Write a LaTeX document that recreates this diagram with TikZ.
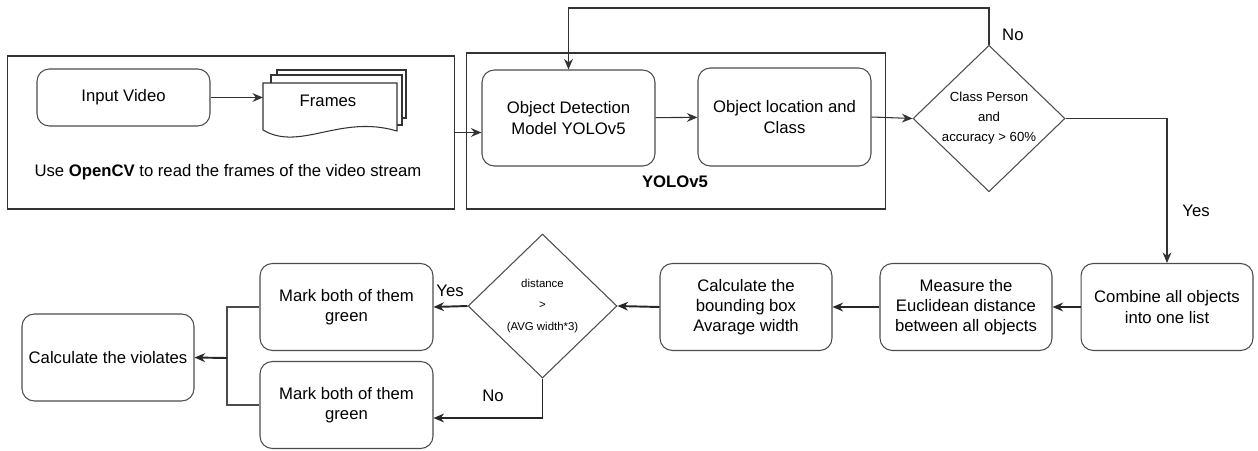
\documentclass[tikz,border=0pt]{standalone}
\usepackage{fontspec}
\setmainfont{Liberation Sans}
\usetikzlibrary{arrows.meta, shapes.geometric, positioning, calc}

\tikzset{
  box/.style={rectangle, rounded corners=7pt, draw=black!70, line width=0.6pt,
              minimum width=3.46cm, minimum height=1.74cm, align=center,
              font=\fontsize{9.5}{11.5}\selectfont},
  frame/.style={rectangle, draw=black!80, line width=0.6pt},
  dec/.style={diamond, draw=black!70, line width=0.6pt, inner sep=0pt, align=center},
  arr/.style={-{Stealth[length=6pt,width=5pt]}, draw=black!80, line width=0.6pt},
  barr/.style={-{Stealth[length=6pt,width=5pt]}, draw=black!85, line width=1.1pt},
  lbl/.style={font=\fontsize{9.5}{11.5}\selectfont}
}

\begin{document}
\begin{tikzpicture}[x=0.02cm,y=-0.02cm]
          \useasboundingbox (0,0) rectangle (1258,450);
          % frames of the video
          \node[frame,minimum width=8.96cm,minimum height=3.06cm](cvbox)at(231,132.5){};
          \node[frame,minimum width=8.4cm,minimum height=3.12cm](ylbox)at(676,131){};
          \node[box,minimum height=1.14cm](iv)at(123.5,97.5){Input Video};
          \fill[white,draw=black!80,line width=0.6pt]
               (277,75)--(277,70)--(406,70)--(406,118)--(402,118);
          \fill[white,draw=black!80,line width=0.6pt]
               (271,83)--(271,75)--(402,75)--(402,125)--(397,125);
          \filldraw[fill=white,draw=black!80,line width=0.6pt]
               (263,83)--(397,83)--(397,131)
               .. controls (340,114) and (300,152) .. (263,130)--cycle;
          \node[lbl](frm)at(328,101){Frames};
          \node[lbl](cvtxt)at(228,172){Use \textbf{OpenCV} to read the frames of the video stream};
          % YOLOv5
          \node[box,minimum height=1.92cm](odm)at(568.5,118){Object Detection\\Model YOLOv5};
          \node[box,minimum height=1.96cm](olc)at(784.5,117){Object location and\\Class};
          \node[lbl,font=\fontsize{9.5}{11.5}\selectfont\bfseries](yl)at(675,182){YOLOv5};
          \node[dec,minimum width=3.04cm,minimum height=2.86cm,
                font=\fontsize{7.5}{11.4}\selectfont](d1)at(989,118.5){Class Person\\and\\accuracy > 60\%};
          % bottom row
          \node[box,minimum width=3.44cm](comb)at(1167,307){Combine all objects\\into one list};
          \node[box,minimum width=3.44cm](meas)at(966,307){Measure the\\Euclidean distance\\between all objects};
          \node[box,minimum width=3.44cm](cbb)at(746,307){Calculate the\\bounding box\\Avarage width};
          \node[dec,minimum width=2.98cm,minimum height=2.88cm,
                font=\fontsize{6.5}{12}\selectfont](d2)at(542.5,306){distance\\>\\(AVG width*3)};
          \node[box](mg1)at(346.5,307){Mark both of them\\green};
          \node[box](mg2)at(346.5,405){Mark both of them\\green};
          \node[box,minimum width=3.44cm](cv)at(108,357.5){Calculate the violates};
          \coordinate(top)at(0,8);
          \coordinate(jn)at(227,358);
          % connectors
          \draw[arr](iv.east)--(iv.east-|263,0);
          \draw[arr](cvbox.east)--(cvbox.east-|odm.west);
          \draw[arr](odm)--(olc);
          \draw[arr](olc.east)--(d1.west);
          \draw[arr](d1.north)--(d1.north|-top)-|(odm.north);
          \node[lbl,anchor=west]at(996,35){No};
          \draw[arr](d1.east)-|(comb.north);
          \node[lbl]at(1196,211){Yes};
          \draw[barr](comb)--(meas);
          \draw[barr](meas)--(cbb);
          \draw[barr](cbb.west)--(d2.east);
          \draw[barr](d2.west)--(mg1.east);
          \node[lbl]at(450,291){Yes};
          \draw[barr](d2.south)|-($(mg2.east)+(0,13)$);
          \node[lbl]at(493,396){No};
          \draw[draw=black!70,line width=0.6pt](mg1.west)-|(jn)|-(mg2.west);
          \draw[barr](jn)--(cv.east);
        \end{tikzpicture}
\end{document}
